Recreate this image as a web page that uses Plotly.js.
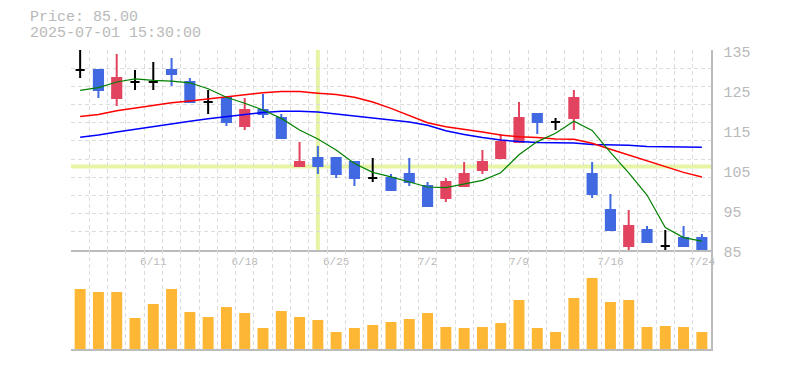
<!DOCTYPE html>
<html>
<head>
<meta charset="utf-8">
<script src="https://cdn.plot.ly/plotly-3.0.1.min.js"></script>
<style>html,body{margin:0;padding:0;background:#fff;}#chart{width:785px;height:370px;}</style>
</head>
<body>
<div id="chart"></div>
<script>
const dates = ['6/5','6/6','6/9','6/10','6/11','6/12','6/13','6/16','6/17','6/18','6/19','6/20','6/23','6/24','6/25','6/26','6/27','6/30','7/1','7/2','7/3','7/4','7/7','7/8','7/9','7/10','7/11','7/14','7/15','7/16','7/17','7/18','7/22','7/23','7/24'];
const tickLabels = ['6/11','6/18','6/25','7/2','7/9','7/16','7/24'];
const openP  = [130,130,123,127,127,130,127,122,123,116,120,118,106,108,108,107,103,103,104,101, 98,101,105,108,112,119,117,118,104, 95, 86, 90, 86, 88, 88];
const highP  = [135,130,134,130,132,133,128,125,123,123,124,119,112,111,108,107,108,104,108,102,103,107,110,114,122,119,118,125,107, 99, 95, 91, 90, 91, 89];
const lowP   = [128,123,121,125,125,126,122,119,116,115,118,113,106,104,103,101,102,100,101, 96, 97,101,104,108,112,114,115,115, 98, 90, 85, 87, 85, 86, 85];
const closeP = [130,125,128,127,127,129,122,122,117,120,119,113,107,106,104,103,103,100,102, 96,102,104,107,112,118,117,117,123, 99, 90, 91, 87, 86, 86, 85];
const volume = [600,570,570,310,450,600,370,320,420,360,210,380,320,290,170,210,240,270,300,360,220,210,220,260,490,210,170,510,710,470,490,220,230,220,170];
const ma5  = [124.9,125.6,127,127.8,127.4,127.2,126.8,125.3,123.2,121.7,120,117.9,115,112.75,110,106.6,104.4,103.3,102.0,100.75,100.6,101.5,102.4,104.3,108.8,112.1,114.2,117.2,114.9,109.4,104.3,98.75,90.6,88.1,87.2];
const ma25 = [118.4,118.9,119.8,120.5,121.2,121.8,122.25,122.75,123.25,123.7,124.3,124.6,124.6,124.2,123.9,123.2,122,120.4,118.6,116.8,115.8,115.2,114.5,113.75,113.3,113.1,112.75,112.7,111.7,110.2,108.75,107.3,106,104.4,103.25];
const ma75 = [113.2,113.75,114.5,115.2,115.8,116.5,117.2,117.8,118.3,118.9,119.4,119.7,119.7,119.5,119,118.5,118.1,117.5,117,116.2,114.8,113.9,113.1,112.5,112.1,111.9,111.9,111.75,111.4,111.3,111.2,110.9,110.8,110.8,110.7];
const yTicks = [85,95,105,115,125,135];
const priceRange = [85,135];
const crossDate = '6/24';
const crossPrice = 105.9;
const priceText = 'Price: 85.00';
const timeText = '2025-07-01 15:30:00';

const UP = '#e2445f', DOWN = '#4169e1', DOJI = '#000000';
const GRID = '#dcdcdc', TXT = '#b9b9b9', AXIS = '#bcbcbc';

function subset(cond){
  const idx = dates.map((d,i)=>i).filter(cond);
  return {x: idx.map(i=>dates[i]), open: idx.map(i=>openP[i]), high: idx.map(i=>highP[i]), low: idx.map(i=>lowP[i]), close: idx.map(i=>closeP[i])};
}
function candle(cond, color){
  const s = subset(cond);
  return Object.assign({type:'candlestick', xaxis:'x', yaxis:'y', showlegend:false, hoverinfo:'skip',
    increasing:{line:{color:color,width:2}, fillcolor:color},
    decreasing:{line:{color:color,width:2}, fillcolor:color}, whiskerwidth:0}, s);
}
const traces = [
  {type:'scatter', mode:'lines', x:[], y:[], xaxis:'x', yaxis:'y3', showlegend:false, hoverinfo:'skip'},
  {type:'bar', x:dates, y:volume, xaxis:'x2', yaxis:'y2', marker:{color:'#fdb734'}, showlegend:false, hoverinfo:'skip'},
  {type:'scatter', mode:'lines', x:dates, y:ma75, line:{color:'#0000ff', width:1.5}, showlegend:false, hoverinfo:'skip'},
  {type:'scatter', mode:'lines', x:dates, y:ma25, line:{color:'#ff0000', width:1.5}, showlegend:false, hoverinfo:'skip'},
  {type:'scatter', mode:'lines', x:dates, y:ma5, line:{color:'#008000', width:1.2}, showlegend:false, hoverinfo:'skip'},
  candle(i=>closeP[i]>openP[i], UP),
  candle(i=>closeP[i]<openP[i], DOWN),
  candle(i=>closeP[i]===openP[i], DOJI),
];

const ticktext = dates.map(d => tickLabels.includes(d) ? d : '');
const xcommon = {type:'category', categoryorder:'array', categoryarray:dates, range:[-0.5, dates.length-0.5],
  tickson:'boundaries', tickvals:dates, showgrid:true, gridcolor:GRID, griddash:'4px,3px', gridwidth:1,
  ticks:'', showline:true, linecolor:AXIS, linewidth:1.5, zeroline:false, fixedrange:true,
  rangeslider:{visible:false}};
const volMax = Math.max(...volume);
const layout = {
  width:785, height:370,
  margin:{l:71, r:74, t:50, b:21},
  paper_bgcolor:'#fff', plot_bgcolor:'#fff',
  font:{family:'Liberation Mono, DejaVu Sans Mono, monospace', color:TXT},
  showlegend:false, hovermode:false,
  boxgap:0.5, boxgroupgap:0, bargap:0.4,
  xaxis: Object.assign({}, xcommon, {anchor:'y', ticktext:ticktext, showticklabels:true, tickangle:0, tickfont:{size:11, color:TXT}}),
  xaxis2: Object.assign({}, xcommon, {anchor:'y2', matches:'x', showticklabels:false}),
  yaxis: {domain:[99/299, 1], range:priceRange, side:'right', tickvals:yTicks, showgrid:false, zeroline:false,
    showline:true, linecolor:AXIS, linewidth:1.5, ticks:'', ticklabelstandoff:8, ticklabelshift:2, tickfont:{size:15, color:TXT}, fixedrange:true},
  yaxis3: {overlaying:'y', anchor:'x', range:[0,11], dtick:1, tick0:0, showgrid:true, gridcolor:GRID, griddash:'4px,3px',
    showticklabels:false, zeroline:false, showline:false, ticks:'', fixedrange:true},
  yaxis2: {domain:[0, 99/299], range:[0, volMax*99/71], side:'right', showgrid:false, zeroline:false, showticklabels:false,
    showline:true, linecolor:AXIS, linewidth:1.5, ticks:'', fixedrange:true},
  shapes:[
    {type:'line', layer:'below', xref:'x', yref:'y domain', x0:crossDate, x1:crossDate, y0:0, y1:1, line:{color:'#e6f5a3', width:4}},
    {type:'line', layer:'below', xref:'x domain', yref:'y', x0:0, x1:1, y0:crossPrice, y1:crossPrice, line:{color:'#e6f5a3', width:4}},
  ],
  annotations:[
    {xref:'paper', yref:'paper', x:-43/640, y:1+33/299, xanchor:'left', yanchor:'middle', showarrow:false, text:priceText, font:{size:15, color:TXT}},
    {xref:'paper', yref:'paper', x:-43/640, y:1+17/299, xanchor:'left', yanchor:'middle', showarrow:false, text:timeText, font:{size:15, color:TXT}},
  ]
};
Plotly.newPlot('chart', traces, layout, {displayModeBar:false, staticPlot:true});
</script>
</body>
</html>
